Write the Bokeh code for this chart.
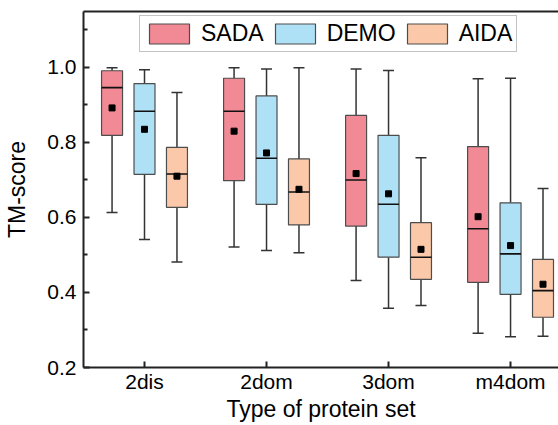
from bokeh.plotting import figure
from bokeh.models import Range1d, FixedTicker, LinearAxis, Legend, LegendItem, NumeralTickFormatter
from bokeh.embed import file_html
from bokeh.resources import INLINE

categories = ["2dis", "2dom", "3dom", "m4dom"]
series_names = ["SADA", "DEMO", "AIDA"]

sada_max = [0.999, 0.999, 0.996, 0.970]
sada_q3 = [0.991, 0.971, 0.872, 0.789]
sada_med = [0.946, 0.883, 0.700, 0.570]
sada_mean = [0.892, 0.830, 0.717, 0.602]
sada_q1 = [0.819, 0.698, 0.577, 0.427]
sada_min = [0.613, 0.521, 0.432, 0.291]

demo_max = [0.994, 0.996, 0.992, 0.971]
demo_q3 = [0.957, 0.924, 0.819, 0.639]
demo_med = [0.883, 0.758, 0.635, 0.503]
demo_mean = [0.835, 0.772, 0.663, 0.525]
demo_q1 = [0.715, 0.635, 0.494, 0.395]
demo_min = [0.541, 0.512, 0.358, 0.282]

aida_max = [0.933, 0.999, 0.759, 0.677]
aida_q3 = [0.787, 0.756, 0.586, 0.488]
aida_med = [0.716, 0.668, 0.494, 0.405]
aida_mean = [0.710, 0.675, 0.515, 0.422]
aida_q1 = [0.627, 0.580, 0.435, 0.334]
aida_min = [0.481, 0.506, 0.365, 0.283]

y_major = [0.2, 0.4, 0.6, 0.8, 1.0]
y_minor = [0.3, 0.5, 0.7, 0.9, 1.1]

series = [
    (sada_max, sada_q3, sada_med, sada_mean, sada_q1, sada_min),
    (demo_max, demo_q3, demo_med, demo_mean, demo_q1, demo_min),
    (aida_max, aida_q3, aida_med, aida_mean, aida_q1, aida_min),
]
colors = ["#F28A96", "#AEE0F6", "#FBC8A9"]
offsets = [-0.266, 0.0, 0.266]
box_w = 0.172
cap_w = 0.09
FONT = "Liberation Sans"

p = figure(width=558, height=425, output_backend="svg", toolbar_location=None,
           x_range=Range1d(0.5, 4.393), y_range=Range1d(0.2, 1.149),
           min_border_left=83, min_border_right=0, min_border_top=11,
           min_border_bottom=58)
p.grid.visible = False
p.outline_line_color = None
p.background_fill_color = "white"
p.border_fill_color = "white"

xpos = [i + 1 for i in range(len(categories))]
items = []
for (mx, q3, med, mean, q1, mn), col, off, name in zip(series, colors, offsets, series_names):
    xs = [x + off for x in xpos]
    p.segment(x0=xs, y0=q3, x1=xs, y1=mx, line_color="#333333", line_width=1.5)
    p.segment(x0=xs, y0=q1, x1=xs, y1=mn, line_color="#333333", line_width=1.5)
    p.segment(x0=[x - cap_w / 2 for x in xs], y0=mx, x1=[x + cap_w / 2 for x in xs], y1=mx,
              line_color="#333333", line_width=1.5)
    p.segment(x0=[x - cap_w / 2 for x in xs], y0=mn, x1=[x + cap_w / 2 for x in xs], y1=mn,
              line_color="#333333", line_width=1.5)
    r = p.vbar(x=xs, width=box_w, top=q3, bottom=q1, fill_color=col,
               line_color="#4d4d4d", line_width=1.2)
    p.segment(x0=[x - box_w / 2 for x in xs], y0=med, x1=[x + box_w / 2 for x in xs], y1=med,
              line_color="#111111", line_width=1.6)
    p.scatter(x=xs, y=mean, marker="square", size=6, fill_color="black", line_color="black")
    items.append(LegendItem(label=name, renderers=[r]))

legend = Legend(items=items, orientation="horizontal", location=(56, 315),
                glyph_width=50, glyph_height=25, label_standoff=7, spacing=6,
                padding=4, margin=0, border_line_color="#888888", border_line_width=1.5,
                label_text_font=FONT, label_text_font_size="23px", label_text_color="black",
                background_fill_alpha=1.0)
p.add_layout(legend, "center")

ax = p.xaxis[0]
ax.ticker = FixedTicker(ticks=xpos)
ax.major_label_overrides = {x: c for x, c in zip(xpos, categories)}
ax.axis_label = "Type of protein set"
ay = p.yaxis[0]
ay.ticker = FixedTicker(ticks=y_major, minor_ticks=y_minor)
ay.formatter = NumeralTickFormatter(format="0.0")
ay.axis_label = "TM-score"

for a in (ax, ay):
    a.axis_line_width = 2
    a.axis_line_color = "#222222"
    a.major_tick_line_color = "#222222"
    a.major_tick_line_width = 2
    a.minor_tick_line_color = "#222222"
    a.minor_tick_line_width = 2
    a.major_tick_out = 0
    a.major_tick_in = 6
    a.minor_tick_out = 0
    a.minor_tick_in = 4
    a.major_label_text_font = FONT
    a.major_label_text_font_size = "21px"
    a.major_label_text_color = "black"
    a.axis_label_text_font = FONT
    a.axis_label_text_font_size = "23px"
    a.axis_label_text_font_style = "normal"
    a.axis_label_text_color = "black"

ax.minor_tick_line_color = None
ax.major_label_standoff = 2
ax.axis_label_standoff = 0
ay.major_label_standoff = 7
ay.axis_label_standoff = 14

top = LinearAxis(ticker=FixedTicker(ticks=[]), axis_line_width=2, axis_line_color="#222222",
                 major_tick_line_color=None, minor_tick_line_color=None,
                 major_label_text_font_size="0px", major_label_standoff=0)
p.add_layout(top, "above")

open("out.html", "w").write(file_html(p, INLINE))
